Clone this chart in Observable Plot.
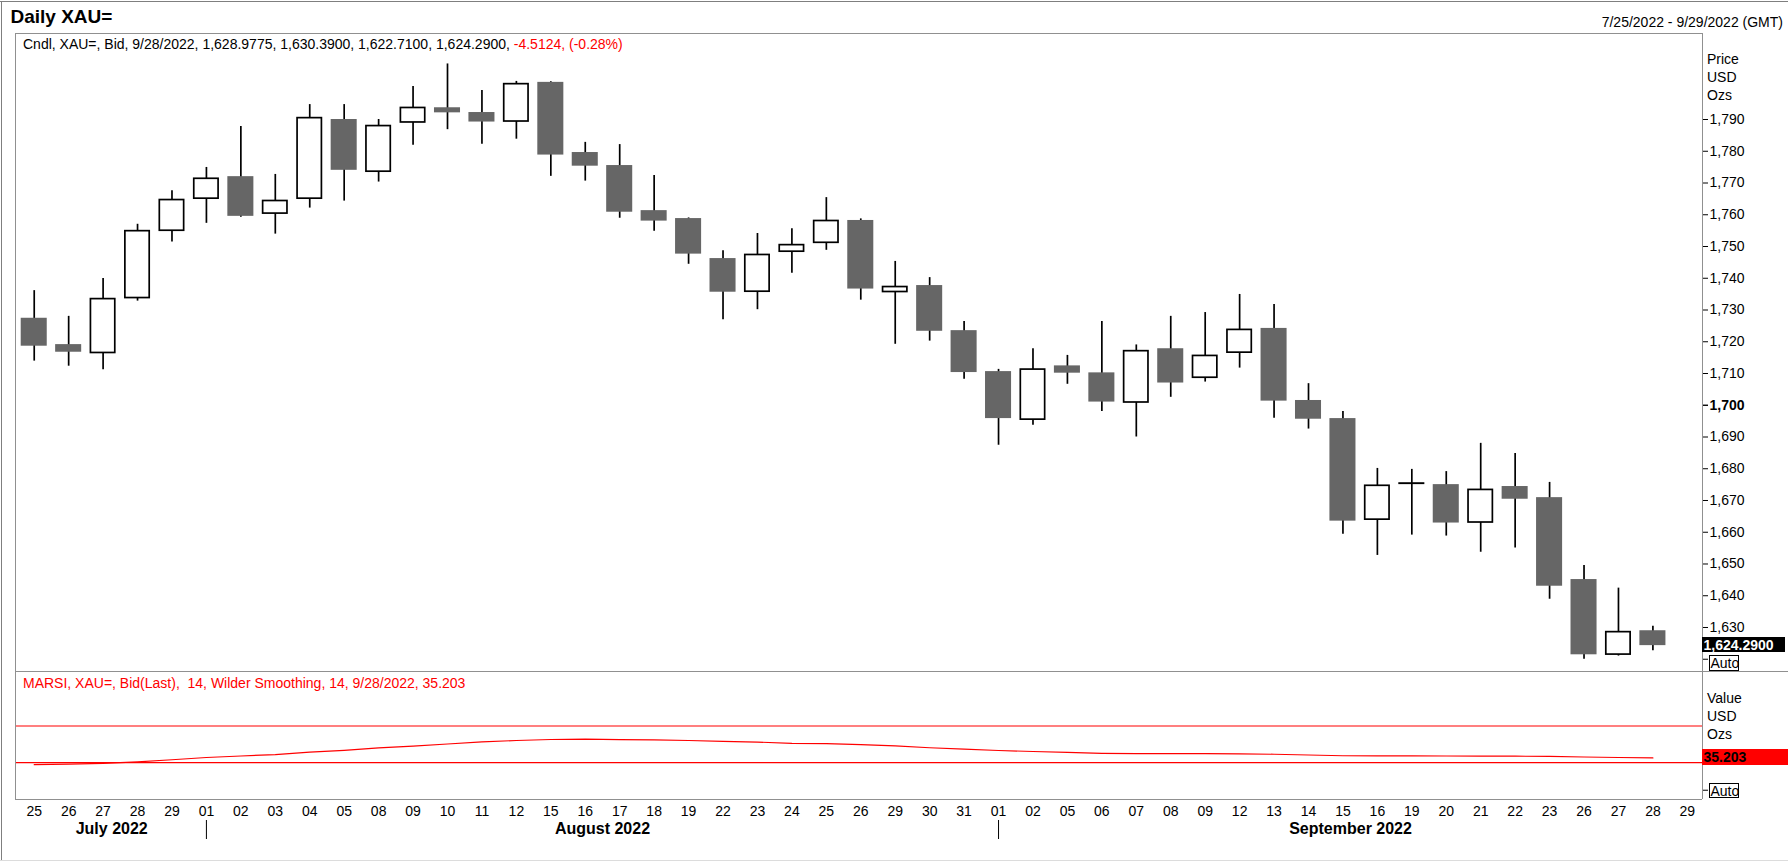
<!DOCTYPE html>
<html><head><meta charset="utf-8">
<script src="https://cdn.jsdelivr.net/npm/d3@7"></script>
<script src="https://cdn.jsdelivr.net/npm/@observablehq/plot@0.6"></script>
<style>
html,body{margin:0;padding:0;background:#fff;}
#root{position:relative;width:1788px;height:862px;overflow:hidden;background:#fff;font-family:"Liberation Sans",Arial,sans-serif;color:#000;}
.t{position:absolute;font-size:14px;line-height:16px;white-space:pre;}
.ln{position:absolute;background:#909090;}
.box{position:absolute;box-sizing:border-box;font-size:14px;line-height:14px;white-space:pre;}
svg{overflow:visible}
</style></head><body><div id="root"></div>
<script>
// ---- data ----
const days = ["25","26","27","28","29","01","02","03","04","05","08","09","10","11","12","15","16","17","18","19","22","23","24","25","26","29","30","31","01","02","05","06","07","08","09","12","13","14","15","16","19","20","21","22","23","26","27","28","29"];
const openP  = [1727.4,1719.1,1716.2,1733.5,1754.7,1764.8,1772.0,1760.1,1764.8,1790.0,1773.3,1788.8,1793.7,1792.2,1789.1,1801.7,1779.6,1775.5,1761.3,1758.8,1746.2,1735.5,1748.1,1750.9,1758.2,1735.4,1737.7,1723.5,1710.6,1695.2,1712.4,1710.2,1700.6,1717.8,1708.4,1716.3,1724.2,1701.5,1695.8,1663.7,1675.0,1675.0,1662.8,1674.4,1670.9,1645.1,1621.2,1628.9775];
const highP  = [1736.1,1728.0,1739.9,1757.0,1767.6,1774.9,1787.8,1772.7,1794.7,1794.7,1790.0,1800.4,1807.5,1799.1,1802.0,1801.9,1782.8,1782.1,1772.4,1759.0,1748.7,1754.1,1755.6,1765.4,1758.7,1745.3,1740.2,1726.4,1711.3,1717.8,1715.7,1726.4,1719.0,1728.0,1729.2,1734.9,1731.7,1706.8,1698.0,1680.1,1679.8,1679.1,1688.0,1684.8,1675.7,1649.5,1642.4,1630.39];
const lowP   = [1713.9,1712.3,1711.2,1732.8,1751.4,1757.3,1759.2,1753.9,1762.1,1764.3,1770.3,1781.9,1786.8,1782.2,1783.8,1772.1,1770.6,1758.9,1754.8,1744.4,1726.9,1730.1,1741.6,1748.8,1733.1,1719.2,1720.2,1708.2,1687.4,1693.7,1706.6,1698.0,1690.0,1702.5,1707.3,1711.7,1695.9,1692.5,1659.4,1652.7,1659.1,1658.8,1653.7,1655.0,1638.9,1620.0,1621.0,1622.71];
const closeP = [1718.6,1716.7,1733.7,1755.1,1764.9,1771.6,1759.5,1764.6,1790.7,1774.0,1788.2,1793.9,1792.1,1789.2,1801.4,1778.8,1775.3,1760.8,1758.0,1747.6,1735.6,1747.6,1750.7,1758.3,1736.6,1737.5,1723.3,1710.3,1695.8,1711.5,1710.1,1701.0,1717.3,1707.0,1715.8,1724.0,1701.3,1695.6,1663.5,1674.9,1675.6,1662.9,1673.6,1670.4,1643.0,1621.4,1628.8024,1624.29];
const rsi = [27.8,28.5,29.2,31.0,33.2,35.7,37.3,38.9,41.6,43.5,46.1,48.0,50.4,52.6,54.2,55.3,55.7,55.1,54.9,54.2,53.3,52.5,51.1,50.7,49.6,48.4,46.3,44.7,43.3,42.2,41.2,40.2,40.0,39.9,39.8,39.6,39.2,38.4,37.6,37.5,37.4,37.3,37.2,37.1,36.9,36.2,35.7,35.203];
const priceTicks = [1620,1630,1640,1650,1660,1670,1680,1690,1700,1710,1720,1730,1740,1750,1760,1770,1780,1790];
const rsiTicks = [0,40];
const rsiLevels = [30,70];
const months = ["July 2022","August 2022","September 2022"];
const monthStart = [0,5,28];
const lastDateLabel = "9/28/2022";
const rangeLabel = "7/25/2022 - 9/29/2022 (GMT)";

// ---- layout ----
const root = document.getElementById("root");
const W = 1788, L = 16.5, R = 86;
const xDomain = [-0.5, 48.44];
const half = 0.378;
const FONT = "Liberation Sans, Arial, sans-serif";
const PANEL_TOP = 33, PRICE_H = 638, RSI_TOP = 671;

const candles = closeP.map((c, i) => ({i, o: openP[i], h: highP[i], l: lowP[i], c}));
const up = candles.filter(d => d.c >= d.o);
const down = candles.filter(d => d.c < d.o);
const f4 = d3.format(",.4f");
const fc = d3.format(",");

const price = Plot.plot({
  width: W, height: PRICE_H, marginTop: 0, marginBottom: 0, marginLeft: L, marginRight: R,
  x: {domain: xDomain, axis: null},
  y: {domain: [1616.14, 1817.09]},
  style: {background: "transparent", fontSize: "14px", fontFamily: FONT, color: "#000"},
  marks: [
    Plot.ruleX(candles, {x: "i", y1: "l", y2: "h", stroke: "#000", strokeWidth: 1.7}),
    Plot.rect(down, {x1: d => d.i - half, x2: d => d.i + half, y1: "o", y2: "c", fill: "#666666"}),
    Plot.rect(up, {x1: d => d.i - half, x2: d => d.i + half, y1: "o", y2: "c", fill: "#fff", stroke: "#000", strokeWidth: 1.7, inset: 0.85}),
    Plot.axisY({anchor: "right", ticks: priceTicks, tickSize: 5, tickPadding: 2, label: null,
      tickFormat: d => (d === 1700 || d === 1620) ? "" : fc(d)}),
    Plot.axisY({anchor: "right", ticks: [1700], tickSize: 5, tickPadding: 2, label: null,
      tickFormat: fc, fontWeight: "bold"})
  ]
});

const rsiData = rsi.map((v, i) => ({i, v}));
const monthData = months.map((m, k) => {
  const s = k === 0 ? xDomain[0] : monthStart[k];
  const e = k === months.length - 1 ? xDomain[1] : monthStart[k + 1];
  return {m, c: (s + e) / 2};
});

const rsiChart = Plot.plot({
  width: W, height: 191, marginTop: 0, marginBottom: 63, marginLeft: L, marginRight: R,
  x: {domain: xDomain},
  y: {domain: [-10.1, 129.4]},
  style: {background: "transparent", fontSize: "14px", fontFamily: FONT, color: "#000"},
  marks: [
    Plot.ruleY(rsiLevels, {stroke: "#ff0000", strokeWidth: 1.2, insetLeft: -1.5}),
    Plot.line(rsiData, {x: "i", y: "v", stroke: "#ff0000", strokeWidth: 1.2}),
    Plot.axisY({anchor: "right", ticks: rsiTicks, tickSize: 5, tickPadding: 2, label: null,
      tickFormat: () => ""}),
    Plot.axisX({anchor: "bottom", ticks: d3.range(days.length), tickSize: 0, tickPadding: 7, label: null,
      tickFormat: i => days[i]}),
    Plot.axisX({anchor: "bottom", ticks: monthStart.slice(1), tickSize: 19, dy: 21, label: null,
      tickFormat: () => ""}),
    Plot.text(monthData, {x: "c", text: "m", frameAnchor: "bottom", lineAnchor: "middle", dy: 29.5, fontWeight: "bold", fontSize: 16})
  ]
});

function place(el, top) {
  el.style.position = "absolute"; el.style.left = "0px"; el.style.top = top + "px";
  root.appendChild(el);
}
place(price, PANEL_TOP);
place(rsiChart, RSI_TOP);

function div(cls, css, html) {
  const d = document.createElement("div");
  d.className = cls; d.style.cssText = css; d.innerHTML = html; root.appendChild(d); return d;
}
// outer lines
div("ln", "left:0;top:1px;width:1788px;height:1px;background:#7f7f7f;", "");
div("ln", "left:1px;top:1px;width:1px;height:860px;background:#7f7f7f;", "");
div("ln", "left:0;top:860px;width:1788px;height:1px;background:#dcdcdc;", "");
// panel frame
div("ln", "left:15px;top:33px;width:1687px;height:1px;", "");
div("ln", "left:15px;top:33px;width:1px;height:766px;", "");
div("ln", "left:1702px;top:33px;width:1px;height:766px;", "");
div("ln", "left:15px;top:671px;width:1773px;height:1px;", "");
div("ln", "left:15px;top:799px;width:1687px;height:1px;", "");

// titles
div("t", "left:10.5px;top:6px;font-size:19px;line-height:22px;font-weight:bold;", "Daily XAU=");
div("t", "right:5px;top:14px;", rangeLabel);
const last = candles[candles.length - 1], prev = candles[candles.length - 2];
const chg = last.c - prev.c;
div("t", "left:23px;top:36px;",
  `Cndl, XAU=, Bid, ${lastDateLabel}, ${f4(last.o)}, ${f4(last.h)}, ${f4(last.l)}, ${f4(last.c)}, ` +
  `<span style="color:#ff0000">${chg.toFixed(4)}, (${(chg / prev.c * 100).toFixed(2)}%)</span>`);
div("t", "left:23px;top:674.5px;color:#ff0000;",
  `MARSI, XAU=, Bid(Last),  14, Wilder Smoothing, 14, ${lastDateLabel}, ${rsi[rsi.length - 1].toFixed(3)}`);
// right axis titles
["Price", "USD", "Ozs"].forEach((s, k) => div("t", `left:1707px;top:${50.5 + 18 * k}px;`, s));
["Value", "USD", "Ozs"].forEach((s, k) => div("t", `left:1707px;top:${689.5 + 18 * k}px;`, s));

// value boxes positioned by scales
const py = price.scale("y"), ry = rsiChart.scale("y");
const yLast = PANEL_TOP + py.apply(last.c);
div("box", `left:1702px;top:${yLast - 8}px;width:83px;height:15px;background:#000;color:#fff;font-weight:bold;padding:1px 0 0 1.5px;`, f4(last.c));
const yR = RSI_TOP + ry.apply(rsi[rsi.length - 1]);
div("box", `left:1702px;top:${yR - 8.5}px;width:86px;height:16px;background:#ff0000;color:#000;font-weight:bold;padding:1px 0 0 1.5px;`, rsi[rsi.length - 1].toFixed(3));
const yAuto1 = PANEL_TOP + py.apply(priceTicks[0]);
div("box", `left:1708.5px;top:${yAuto1 - 3.5}px;width:30px;height:15.5px;border:1px solid #000;background:#fff;padding:0 0 0 1px;`, "Auto");
const yAuto2 = RSI_TOP + ry.apply(rsiTicks[0]);
div("box", `left:1708.5px;top:${yAuto2 - 7}px;width:30px;height:15.5px;border:1px solid #000;background:#fff;padding:0 0 0 1px;`, "Auto");
</script></body></html>
